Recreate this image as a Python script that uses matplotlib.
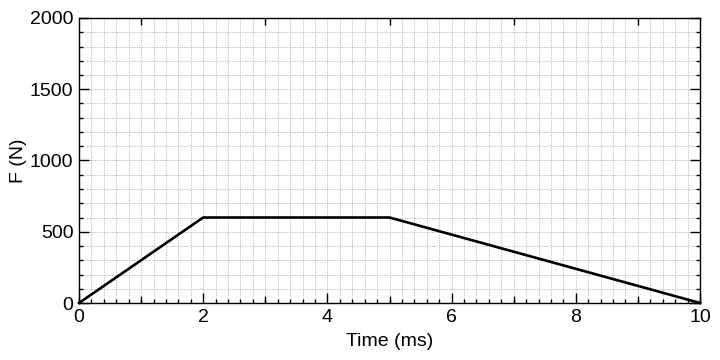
import matplotlib
matplotlib.use("Agg")
import matplotlib.pyplot as plt
from matplotlib.ticker import MultipleLocator, FixedLocator, NullFormatter

plt.rcParams['font.family'] = ['Liberation Sans', 'DejaVu Sans']

time_ms = [0, 2, 5, 10]
force_n = [0, 600, 600, 0]

fig = plt.figure(figsize=(7.2, 3.6), dpi=100)
ax = fig.add_axes([79/720, 1-303/360, (700-79)/720, (303-18)/360])

ax.plot(time_ms, force_n, color='black', lw=1.9, solid_joinstyle='miter', zorder=3, clip_on=False)

ax.set_xlim(0, 10)
ax.set_ylim(0, 2000)
ax.xaxis.set_major_locator(MultipleLocator(2))
ax.xaxis.set_minor_locator(MultipleLocator(0.2))
ax.yaxis.set_major_locator(MultipleLocator(500))
ax.yaxis.set_minor_locator(MultipleLocator(100))

ax.grid(which='both', color='#b0b0b0', linestyle=(0, (1.5, 1.5)), linewidth=0.6)
ax.set_axisbelow(True)

ax.tick_params(which='both', direction='in', top=True, right=True, width=1.0, labelsize=14, colors='black')
ax.tick_params(which='major', length=7, pad=4)
ax.tick_params(which='minor', length=3)
for s in ax.spines.values():
    s.set_linewidth(1.0)

# medium ticks at odd integers
ax2 = ax.twiny()
ax2.set_xlim(ax.get_xlim())
ax2.xaxis.set_major_locator(FixedLocator([1, 3, 5, 7, 9]))
ax2.xaxis.set_major_formatter(NullFormatter())
ax2.tick_params(which='major', direction='in', length=5, width=1.0, top=True, bottom=True)
ax2.xaxis.set_minor_locator(FixedLocator([]))
for s in ax2.spines.values():
    s.set_visible(False)

ax.set_xlabel('Time (ms)', fontsize=14, labelpad=5)
ax.set_ylabel('F (N)', fontsize=14, labelpad=2)

fig.savefig('out.png', dpi=100)
